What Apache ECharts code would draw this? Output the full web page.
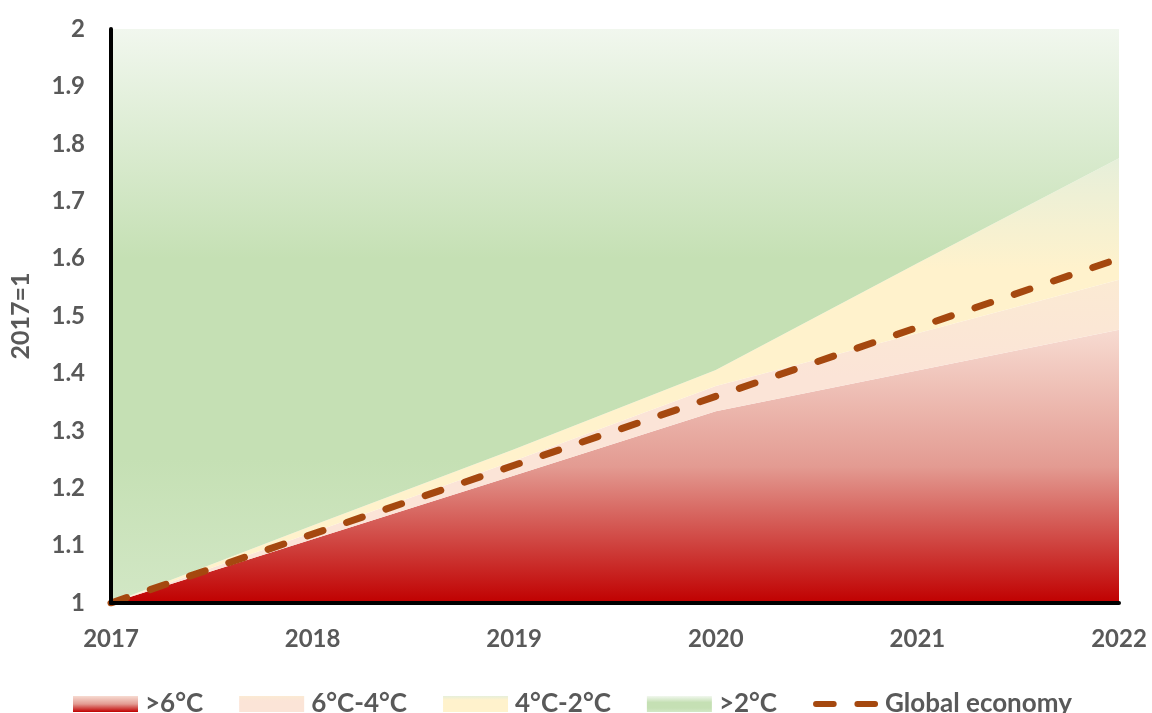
<!DOCTYPE html>
<html>
<head>
<meta charset="utf-8">
<script src="https://cdn.jsdelivr.net/npm/echarts@6/dist/echarts.min.js"></script>
<style>
html,body{margin:0;padding:0;background:#fff;}
#c{width:1152px;height:713px;}
</style>
</head>
<body>
<div id="c"></div>
<script>
const years = ['2017','2018','2019','2020','2021','2022'];
// upper boundaries of each band (2017=1)
const topAbove6 = [1.0, 1.111, 1.222, 1.334, 1.405, 1.476];
const top6to4   = [1.0, 1.123, 1.248, 1.378, 1.470, 1.563];
const top4to2   = [1.0, 1.135, 1.268, 1.406, 1.592, 1.775];
const topBelow2 = [2.0, 2.0, 2.0, 2.0, 2.0, 2.0];
const globalEconomy = [1.0, 1.12, 1.24, 1.36, 1.48, 1.60];
const yTicks = {min: 1, max: 2, interval: 0.1};

const diff = (a, b) => a.map((v, i) => +(v - b[i]).toFixed(4));

const FONT = 'Lato';
const GREY = '#595959';
const LINE = '#a5480f';

function grad(stops) {
  return new echarts.graphic.LinearGradient(0, 0, 0, 1, stops.map(s => ({offset: s[0], color: s[1]})));
}
const redG = () => grad([[0, '#f7dbd1'], [0.5, '#e39b92'], [1, '#c00000']]);
const peachG = () => grad([[0, '#fbead3'], [0.3, '#fbe4d7'], [1, '#fbe4d7']]);
const yellowG = () => grad([[0, '#e6efda'], [0.25, '#fff2cc'], [1, '#fff2cc']]);
const greenG = () => grad([[0, '#f1f7ee'], [0.4, '#c5e0b4'], [0.75, '#c5e0b4'], [1, '#d2e7c5']]);

function areaSeries(name, data, colorFn) {
  return {
    name, type: 'line', stack: 'bands', data,
    symbol: 'none', showSymbol: false,
    lineStyle: {width: 0, opacity: 0},
    itemStyle: {color: colorFn()},
    areaStyle: {color: colorFn(), opacity: 1},
    emphasis: {disabled: true}, silent: true, z: 1
  };
}

const dashIcon = 'path://M3,0 L21,0 A3,3 0 0 1 21,6 L3,6 A3,3 0 0 1 3,0 Z M45,0 L63,0 A3,3 0 0 1 63,6 L45,6 A3,3 0 0 1 45,0 Z';

const chart = echarts.init(document.getElementById('c'));
chart.setOption({
  animation: false,
  backgroundColor: '#fff',
  grid: {left: 111, right: 33, top: 29, bottom: 110, containLabel: false},
  xAxis: {
    type: 'category', data: years, boundaryGap: false,
    axisLine: {show: true, lineStyle: {color: '#000', width: 4}},
    axisTick: {show: false},
    axisLabel: {color: GREY, fontFamily: FONT, fontWeight: 'bold', fontSize: 24, margin: 24},
    splitLine: {show: false}, z: 10
  },
  yAxis: {
    type: 'value', min: yTicks.min, max: yTicks.max, interval: yTicks.interval,
    name: '2017=1', nameLocation: 'middle', nameGap: 78, nameRotate: 90,
    nameTextStyle: {color: GREY, fontFamily: FONT, fontWeight: 'bold', fontSize: 25},
    axisLine: {show: true, lineStyle: {color: '#000', width: 4}},
    axisTick: {show: false},
    axisLabel: {color: GREY, fontFamily: FONT, fontWeight: 'bold', fontSize: 24, margin: 26,
      formatter: v => String(+v.toFixed(1))},
    splitLine: {show: false}, z: 10
  },
  legend: {
    left: 68, top: 686, itemGap: 36, itemWidth: 65, itemHeight: 16,
    textStyle: {color: GREY, fontFamily: FONT, fontWeight: 'bold', fontSize: 26, padding: [0, 0, 0, 2]},
    data: [
      {name: '>6°C', icon: 'rect', itemStyle: {color: redG()}},
      {name: '6°C-4°C', icon: 'rect', itemStyle: {color: peachG()}},
      {name: '4°C-2°C', icon: 'rect', itemStyle: {color: yellowG()}},
      {name: '>2°C', icon: 'rect', itemStyle: {color: greenG()}},
      {name: 'Global economy', icon: dashIcon, symbolKeepAspect: true, itemStyle: {color: LINE}}
    ]
  },
  series: [
    areaSeries('>6°C', topAbove6, redG),
    areaSeries('6°C-4°C', diff(top6to4, topAbove6), peachG),
    areaSeries('4°C-2°C', diff(top4to2, top6to4), yellowG),
    areaSeries('>2°C', diff(topBelow2, top4to2), greenG),
    {
      name: 'Global economy', type: 'line', data: globalEconomy,
      symbol: 'none', showSymbol: false, z: 5,
      itemStyle: {color: LINE},
      lineStyle: {color: LINE, width: 7, type: [16.5, 25], cap: 'round'},
      emphasis: {disabled: true}
    }
  ]
});
</script>
</body>
</html>
